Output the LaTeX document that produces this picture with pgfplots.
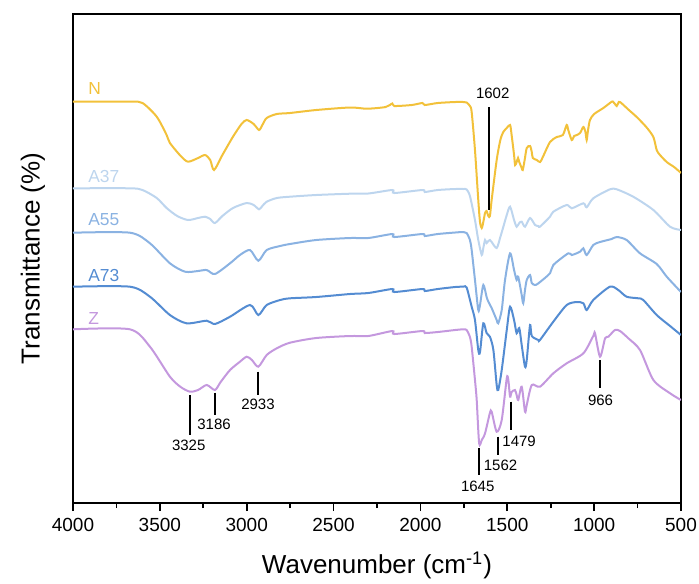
\documentclass[border=0pt]{standalone}
\usepackage{pgfplots}
\pgfplotsset{compat=1.18}
\usepackage{fontspec}
\setmainfont{Liberation Sans}

% curve colours
\definecolor{cN}{RGB}{242,193,58}
\definecolor{cA37}{RGB}{189,213,238}
\definecolor{cA55}{RGB}{138,178,226}
\definecolor{cA73}{RGB}{84,140,210}
\definecolor{cZ}{RGB}{196,152,222}

\begin{document}
\begin{tikzpicture}
  \path[use as bounding box] (0,0) rectangle (349.5pt,-291.5pt);
  \begin{axis}[
      at={(36.5pt,-251.5pt)}, anchor=south west,
      scale only axis, width=304pt, height=244.5pt,
      x dir=reverse, xmin=500, xmax=4000,
      y dir=reverse, ymin=14, ymax=503,
      xtick={500,1000,...,4000},
      minor x tick num=1,
      ytick=\empty,
      xtick pos=bottom, tick align=outside,
      major tick length=4pt, minor tick length=2.5pt,
      axis line style={line width=0.9pt},
      every tick/.style={line width=0.8pt, black},
      tick label style={font=\fontsize{9.5}{11}\selectfont},
      /pgf/number format/assume math mode=true,
      /pgf/number format/set thousands separator={},
      xlabel={Wavenumber (cm\textsuperscript{-1})},
      ylabel={Transmittance (\%)},
      label style={font=\fontsize{13}{15}\selectfont},
      xlabel style={at={(axis description cs:0.5,-0.127)}, anchor=center},
      ylabel style={at={(axis description cs:-0.0658,0.5)}, anchor=center},
      every axis plot/.style={line width=1pt, no markers, smooth, tension=0.45},
      clip=true,
    ]
    % N
    \addplot[cN] coordinates {
      (4000,101.7)(3672,101.7)(3600,103)(3518,116.7)(3461,135)(3442,143)(3380,156)
      (3338,161.7)(3280,158)(3240,155)(3210,160)(3188,170)(3140,155)(3079,136.7)
      (3030,124)(3000,120)(2960,124)(2929,130)(2910,125)(2885,118)(2827,114)(2751,113)
      (2600,110)(2405,107.5)(2307,108.7)(2200,107)(2162,103.5)(2150,106)(2050,105)
      (1988,103)(1975,105)(1900,103)(1800,102)(1753,102)(1734,102.5)(1715,106)
      (1705,112)(1686,150)(1667,200)(1657,222)(1647,228)(1638,222)(1628,213)(1619,211)
      (1609,216)(1600,216)(1590,200)(1561,160)(1540,140)(1523,132)(1503,128)(1484,125)
      (1475,135)(1461,155)(1455,165)(1446,162)(1438,158)(1431,162)(1417,168)(1411,170)
      (1400,160)(1388,148)(1369,146)(1359,152)(1353,158)(1330,160)(1311,162)(1290,155)
      (1254,142)(1215,137)(1180,135)(1158,125)(1149,130)(1129,140)(1115,136)(1100,135)
      (1081,133)(1062,127)(1050,132)(1043,140)(1035,130)(1024,120)(1000,114)(947,108)
      (899,101.7)(890,102)(880,104)(870,106)(861,103)(851,102)(800,110)(755,117)
      (700,127)(659,137)(640,150)(621,155)(582,162)(540,167)(506,172)(500,173)
    };
    % A37
    \addplot[cA37] coordinates {
      (4000,188.3)(3672,188.3)(3600,190)(3518,198)(3461,208)(3400,216)(3338,220)
      (3280,218)(3240,216.7)(3210,219)(3183,223)(3140,216)(3079,208)(3000,203)
      (2960,205)(2929,209.3)(2910,206)(2885,201.7)(2827,198)(2751,196.7)(2600,195)
      (2405,193.7)(2300,193.5)(2162,190)(2150,193)(1988,190)(1975,192)(1900,190)
      (1800,189)(1753,189)(1734,189.5)(1715,196)(1686,220)(1667,240)(1647,255)
      (1638,248)(1628,240)(1619,243)(1609,241)(1600,240)(1590,242)(1561,248)(1540,237)
      (1523,227)(1503,215)(1484,206.7)(1461,220)(1446,226.7)(1431,223)(1417,221.7)
      (1398,226.7)(1369,218)(1340,225)(1321,226)(1312,226.7)(1254,216.7)(1235,211.7)
      (1158,205)(1129,208.3)(1062,203.3)(1043,207.3)(1005,198.3)(909,189.3)(870,189.3)
      (775,196.7)(659,210)(563,226.7)(500,230)
    };
    % A55
    \addplot[cA55] coordinates {
      (4000,232.7)(3672,232.7)(3557,243.3)(3442,263.3)(3355,271.7)(3280,271)(3230,270)
      (3183,274)(3096,263.3)(3039,255)(2981,250)(2933,260.7)(2885,250)(2808,246)
      (2751,244)(2600,240)(2405,238)(2300,238)(2162,234)(2150,237)(1988,234)(1975,236)
      (1900,234)(1800,232.5)(1753,232)(1734,233)(1715,240)(1705,250)(1686,280)
      (1667,310)(1657,305)(1638,285)(1619,297)(1609,301.7)(1590,308)(1561,320)
      (1552,323.3)(1532,310)(1513,280)(1484,253.3)(1461,270)(1446,280)(1437,276.7)
      (1417,295)(1408,303.3)(1398,290)(1388,280)(1369,275)(1359,283)(1340,285)
      (1321,283.3)(1254,273.3)(1235,265)(1149,253.3)(1129,255)(1081,251.7)(1062,248.3)
      (1043,255)(1005,245)(966,242)(899,239)(870,237)(813,240)(736,253.3)(640,264)
      (582,276.7)(500,292)
    };
    % A73
    \addplot[cA73] coordinates {
      (4000,286.7)(3672,286.7)(3557,296.7)(3442,315)(3346,323.3)(3230,320.7)(3183,324)
      (3096,316.7)(2981,305)(2933,315)(2885,305)(2808,300)(2751,298.3)(2600,297)
      (2405,294)(2300,293)(2162,289)(2150,292)(1988,289)(1975,291)(1900,289)(1800,287)
      (1753,286.7)(1734,287.5)(1705,306.7)(1686,320)(1667,350)(1657,352)(1638,323.3)
      (1619,333)(1600,336.7)(1580,350)(1561,385)(1552,390)(1532,370)(1503,330)
      (1484,306.7)(1461,320)(1446,333.3)(1431,328)(1417,345)(1398,366.7)(1388,360)
      (1369,325)(1359,336)(1321,340)(1312,340)(1235,321.7)(1158,305)(1100,302)
      (1062,303.3)(1043,310)(1005,300)(909,286.7)(861,290)(813,296.7)(746,298.3)
      (717,300)(640,315)(563,326)(500,335)
    };
    % Z
    \addplot[cZ] coordinates {
      (4000,329.3)(3672,329.3)(3557,346.7)(3442,376.7)(3380,387)(3326,391.7)(3280,390)
      (3230,385)(3183,390)(3150,382)(3096,370)(3039,361.7)(3000,356.7)(2970,360)
      (2933,366.7)(2885,355)(2827,348.3)(2751,342.7)(2600,338)(2405,336)(2300,336)
      (2162,331)(2150,334)(1988,331)(1975,333)(1900,332)(1800,330)(1753,329.3)
      (1734,330)(1715,337)(1705,346.7)(1686,380)(1676,400)(1662,443.3)(1647,440)
      (1628,433.3)(1600,413)(1590,411.7)(1561,431.7)(1532,420)(1503,378.3)(1494,380)
      (1484,396.7)(1475,392)(1456,390)(1446,395)(1437,400)(1417,386.7)(1398,411.7)
      (1388,405)(1359,385)(1312,386.7)(1235,373.3)(1158,363.3)(1062,353.3)(1005,336)
      (995,333.3)(966,356.7)(937,338.3)(918,336.7)(880,330)(851,331)(803,338.3)
      (736,350)(659,380)(563,393.3)(500,400)
    };

    % sample names
    \begin{scope}[every node/.style={anchor=west, inner sep=0pt, font=\fontsize{8.7}{10}\selectfont}]
      \node[text=cN]   at (axis cs:3914,89)    {N};
      \node[text=cA37] at (axis cs:3914,176.7) {A37};
      \node[text=cA55] at (axis cs:3914,220)   {A55};
      \node[text=cA73] at (axis cs:3914,275)   {A73};
      \node[text=cZ]   at (axis cs:3914,318.3) {Z};
    \end{scope}

    % peak marks
    \begin{scope}[line width=0.9pt, every node/.style={inner sep=0pt, font=\fontsize{7.5}{9}\selectfont}]
      \draw (axis cs:1603,107) -- (axis cs:1603,210);
      \node at (axis cs:1584,93) {1602};
      \draw (axis cs:3326,395) -- (axis cs:3326,435);
      \node at (axis cs:3334,445) {3325};
      \draw (axis cs:3183,392.7) -- (axis cs:3183,415);
      \node at (axis cs:3188,424) {3186};
      \draw (axis cs:2933,371.7) -- (axis cs:2933,395);
      \node at (axis cs:2935,404.5) {2933};
      \draw (axis cs:1661,448.3) -- (axis cs:1661,475);
      \node at (axis cs:1670,486.7) {1645};
      \draw (axis cs:1555,436.7) -- (axis cs:1555,455);
      \node at (axis cs:1539,465) {1562};
      \draw (axis cs:1478,401.7) -- (axis cs:1478,430);
      \node at (axis cs:1432,441) {1479};
      \draw (axis cs:966,360) -- (axis cs:966,388.3);
      \node at (axis cs:963,400) {966};
    \end{scope}
  \end{axis}
\end{tikzpicture}
\end{document}
